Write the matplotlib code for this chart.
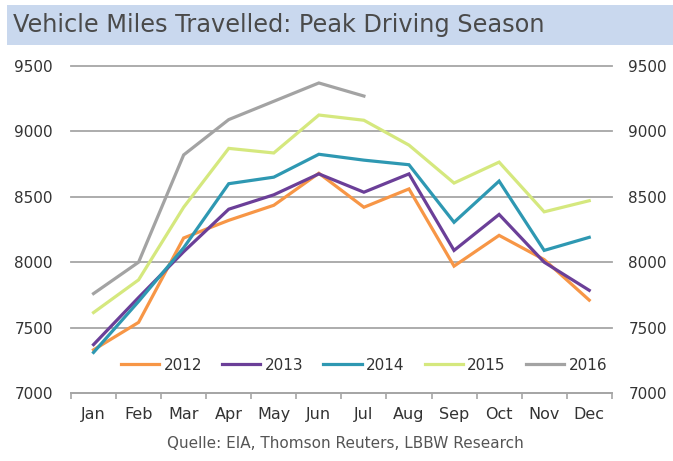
import numpy as np
import matplotlib
matplotlib.use('Agg')
from matplotlib import pyplot as plt
from matplotlib.patches import Rectangle

# daten
months = ['Jan', 'Feb', 'Mar', 'Apr', 'May', 'Jun', 'Jul', 'Aug', 'Sep', 'Oct', 'Nov', 'Dec']
y2012 = [7330, 7540, 8185, 8320, 8435, 8680, 8420, 8560, 7970, 8205, 8020, 7710]
y2013 = [7370, 7730, 8080, 8405, 8515, 8675, 8535, 8675, 8090, 8365, 8000, 7785]
y2014 = [7310, 7700, 8110, 8600, 8650, 8825, 8780, 8745, 8305, 8620, 8090, 8190]
y2015 = [7615, 7865, 8420, 8870, 8835, 9125, 9085, 8895, 8605, 8765, 8385, 8470]
y2016 = [7760, 8000, 8820, 9090, 9230, 9370, 9270]
years = ['2012', '2013', '2014', '2015', '2016']
series = [y2012, y2013, y2014, y2015, y2016]
colors = ['#F79646', '#6B3F98', '#2E98B2', '#D5E87E', '#A3A3A3']
yticks = [7000, 7500, 8000, 8500, 9000, 9500]

fig = plt.figure(figsize=(6.73, 4.61), dpi=100)

# titelband
fig.patches.append(Rectangle((0.01, 0.902), 0.99, 0.088, transform=fig.transFigure,
                             facecolor='#C9D8EE', edgecolor='none', zorder=0))
fig.text(0.02, 0.946, 'Vehicle Miles Travelled: Peak Driving Season', fontsize=17.3,
         color='#4A4A4A', va='center', ha='left')

ax = fig.add_axes([0.1055, 0.1475, 0.8035, 0.7094])
x = np.arange(len(months))
for s, c, lab in zip(series, colors, years):
    ax.plot(x[:len(s)], s, color=c, lw=2.3, label=lab, solid_joinstyle='miter')

ax.set_xlim(-0.5, 11.5)
ax.set_ylim(7000, 9500)
ax.set_yticks(yticks)
ax.grid(axis='y', color='#A6A6A6', lw=1.3)
for gl in ax.get_ygridlines():
    gl.set_clip_on(False)
ax.set_axisbelow(True)
for sp in ['left', 'right', 'top']:
    ax.spines[sp].set_visible(False)
ax.spines['bottom'].set_color('#A6A6A6')
ax.spines['bottom'].set_linewidth(1.3)

ax.set_xticks(x)
ax.set_xticklabels(months, fontsize=11.5, color='#333333')
ax.tick_params(axis='x', length=0, pad=10)
ax.set_xticks(np.arange(-0.5, 12, 1), minor=True)
ax.tick_params(axis='x', which='minor', length=4, color='#A6A6A6', width=1.2)
ax.tick_params(axis='y', length=0, labelsize=11, labelcolor='#333333', pad=13)

ax2 = ax.twinx()
ax2.set_ylim(7000, 9500)
ax2.set_yticks(yticks)
ax2.tick_params(axis='y', length=0, labelsize=11, labelcolor='#333333', pad=12)
for sp in ['left', 'right', 'top', 'bottom']:
    ax2.spines[sp].set_visible(False)

leg = ax.legend(loc='lower center', bbox_to_anchor=(0.542, 0.02), ncol=5, frameon=False,
                fontsize=11, handlelength=2.5, handletextpad=0.3, columnspacing=1.3)
for t in leg.get_texts():
    t.set_color('#333333')

fig.text(0.513, 0.038, 'Quelle: EIA, Thomson Reuters, LBBW Research', fontsize=11,
         color='#555555', ha='center', va='center')

fig.savefig('out.png', dpi=100)
